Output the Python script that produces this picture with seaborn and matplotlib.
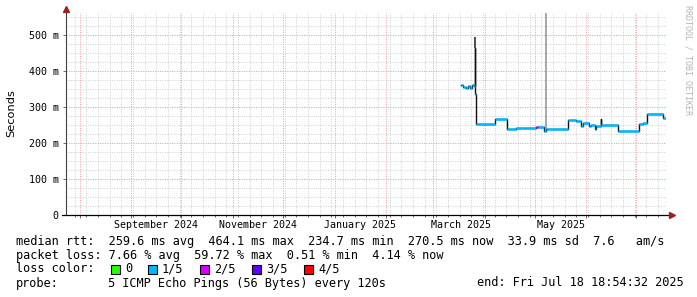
import numpy as np
import pandas as pd
import matplotlib
matplotlib.use("Agg")
import matplotlib.pyplot as plt
import matplotlib.dates as mdates
import matplotlib.transforms as mtransforms
from matplotlib.patches import Rectangle
from matplotlib.ticker import FixedLocator, NullFormatter
import seaborn as sns

# ---------------- data ----------------
graph_start = "2024-07-23 18:54:32"
graph_end = "2025-07-18 18:54:32"

median_times = [
    "2025-03-18 00:00", "2025-03-19 06:00", "2025-03-20 12:00", "2025-03-21 18:00",
    "2025-03-23 00:00", "2025-03-24 06:00", "2025-03-25 12:00", "2025-03-26 00:00",
    "2025-03-26 08:00", "2025-03-26 16:00", "2025-04-07 00:00", "2025-04-14 12:00",
    "2025-04-20 00:00", "2025-04-25 00:00", "2025-05-01 18:00", "2025-05-02 18:00",
    "2025-05-06 12:00", "2025-05-08 00:00", "2025-05-13 00:00", "2025-05-21 00:00",
    "2025-05-26 00:00", "2025-05-29 00:00", "2025-05-29 18:00", "2025-06-02 12:00",
    "2025-06-04 00:00", "2025-06-06 00:00", "2025-06-07 00:00", "2025-06-09 12:00",
    "2025-06-10 00:00", "2025-06-20 00:00", "2025-07-02 12:00", "2025-07-05 00:00",
    "2025-07-07 09:00", "2025-07-17 00:00", "2025-07-18 18:00",
]
median_ms = [
    360, 356, 352, 357, 353, 361, 357, 464,
    335, 253, 267, 239,
    241, 243, 245, 244,
    234, 240, 238, 263,
    261, 247, 256, 246,
    249, 240, 248, 266,
    249, 233, 253, 256,
    281, 270, 270,
]
median_loss = [
    "1/5", "1/5", "1/5", "1/5", "1/5", "1/5", "1/5", "1/5",
    "1/5", "1/5", "1/5", "1/5",
    "1/5", "1/5", "2/5", "1/5",
    "1/5", "1/5", "1/5", "1/5",
    "1/5", "1/5", "1/5", "1/5",
    "1/5", "1/5", "1/5", "1/5",
    "1/5", "1/5", "1/5", "1/5",
    "1/5", "1/5", "1/5",
]

smoke_times = ["2025-03-26 00:00", "2025-05-07 20:00"]
smoke_low = [464, 238]
smoke_high = [494, 560]

loss_labels = ["0", "1/5", "2/5", "3/5", "4/5"]
loss_colors = ["#26ff00", "#00b8ff", "#d400ff", "#5e00ff", "#ff0000"]

y_ticks = [0, 100, 200, 300, 400, 500]
y_tick_labels = ["0", "100 m", "200 m", "300 m", "400 m", "500 m"]

x_label_dates = ["2024-09-16", "2024-11-16", "2025-01-16", "2025-03-18", "2025-05-17"]
x_label_texts = ["September 2024", "November 2024", "January 2025", "March 2025", "May 2025"]

row_rtt = "median rtt:  259.6 ms avg  464.1 ms max  234.7 ms min  270.5 ms now  33.9 ms sd  7.6   am/s"
row_loss = "packet loss: 7.66 % avg  59.72 % max  0.51 % min  4.14 % now"
probe_text = "5 ICMP Echo Pings (56 Bytes) every 120s"
end_text = "end: Fri Jul 18 18:54:32 2025"

# ---------------- figure ----------------
W, H = 697, 297
fig = plt.figure(figsize=(W / 100, H / 100), dpi=100, facecolor="white")
ax = fig.add_axes([66 / W, (H - 215) / H, 600 / W, 202 / H])
ax.set_facecolor("white")

t = pd.to_datetime(median_times)
df = pd.DataFrame({"t": t, "ms": median_ms, "loss": median_loss})

# black median step line
sns.lineplot(data=df, x="t", y="ms", ax=ax, color="#101010", lw=1.0,
             drawstyle="steps-post", estimator=None, sort=False, zorder=3)

# coloured horizontal segments by loss level
rows = []
for i in range(len(df) - 1):
    rows.append((df.t[i], df.ms[i], df.loss[i], i))
    rows.append((df.t[i + 1], df.ms[i], df.loss[i], i))
seg = pd.DataFrame(rows, columns=["t", "ms", "loss", "seg"])
sns.lineplot(data=seg, x="t", y="ms", hue="loss", units="seg", estimator=None,
             palette=dict(zip(loss_labels, loss_colors)), lw=1.8, legend=False,
             ax=ax, zorder=4, solid_capstyle="butt")

# smoke spikes
st = pd.to_datetime(smoke_times)
ax.vlines(st, smoke_low, smoke_high, colors=["#303030", "#a0a0a0"], lw=[1.2, 1.3], zorder=2)

# axes limits
ax.set_xlim(pd.Timestamp(graph_start), pd.Timestamp(graph_end))
ax.set_ylim(0, 561)
ax.set_xlabel("")
ax.set_ylabel("")

# grid
ax.xaxis.set_major_locator(mdates.MonthLocator())
ax.xaxis.set_minor_locator(mdates.WeekdayLocator(byweekday=mdates.MO))
ax.xaxis.set_major_formatter(NullFormatter())
ax.yaxis.set_major_locator(FixedLocator(y_ticks))
minor_y = [v for v in np.arange(0, 561, 25) if v % 100 != 0]
ax.yaxis.set_minor_locator(FixedLocator(minor_y))
ax.set_yticklabels(y_tick_labels, family="DejaVu Sans Mono", fontsize=7.2)
ax.grid(which="minor", color="#d2d2d2", linestyle=(0, (1, 1.4)), lw=0.72, zorder=0)
ax.grid(which="major", color="#eba0a0", linestyle=(0, (1, 1.4)), lw=0.72, zorder=1)
ax.set_axisbelow(True)
ax.tick_params(which="both", direction="out", length=2.2, width=0.6, color="#505050", pad=3)
ax.tick_params(axis="y", which="minor", length=0)
ax.tick_params(axis="x", which="minor", length=1.4)

for s in ["top", "right"]:
    ax.spines[s].set_visible(False)
ax.spines["left"].set_color("#404040")
ax.spines["left"].set_linewidth(0.8)
ax.spines["bottom"].set_visible(False)
ax.plot([-0.007, 1.008], [0, 0], transform=ax.transAxes, color="black", lw=0.9,
        clip_on=False, zorder=6)
ax.plot([0], [1.0 + 4 / 202], marker="^", ms=4.5, color="#a02020",
        transform=ax.transAxes, clip_on=False, zorder=7)
ax.plot([1.0 + 6 / 600], [0], marker=">", ms=4.5, color="#a02020",
        transform=ax.transAxes, clip_on=False, zorder=7)

# x labels at mid-month positions
trans = mtransforms.blended_transform_factory(ax.transData, ax.transAxes)
for d, txt in zip(x_label_dates, x_label_texts):
    ax.text(pd.Timestamp(d), -10 / 202, txt, transform=trans, ha="center", va="center",
            family="DejaVu Sans Mono", fontsize=7.2, color="black")

fig.text(11 / W, 1 - 113 / H, "Seconds", rotation=90, ha="center", va="center",
         family="DejaVu Sans", fontsize=8.2, color="black")

fig.text(688 / W, 1 - 60 / H, "RRDTOOL / TOBI OETIKER", rotation=-90, ha="center",
         va="center", family="DejaVu Sans Mono", fontsize=6, color="#b4b4b4")

# ---------------- legend / stats text ----------------
mono = dict(family="DejaVu Sans Mono", fontsize=8.6, color="black", va="center")

def ftext(x, y, s, **kw):
    fig.text(x / W, 1 - y / H, s, **{**mono, **kw})

ftext(16, 241, row_rtt)
ftext(16, 255, row_loss)

ftext(16, 269, "loss color:")
box_x = [111, 148, 200, 252, 304]
for bx, lab, col in zip(box_x, loss_labels, loss_colors):
    fig.patches.append(Rectangle((bx / W, 1 - 274 / H), 9 / W, 9 / H, transform=fig.transFigure,
                                 facecolor=col, edgecolor="black", lw=0.8))
    ftext(bx + 14, 269, lab)

ftext(16, 283, "probe:")
ftext(108, 283, probe_text)
ftext(684, 283, end_text, ha="right")

fig.savefig("out.png", dpi=100, facecolor="white")
